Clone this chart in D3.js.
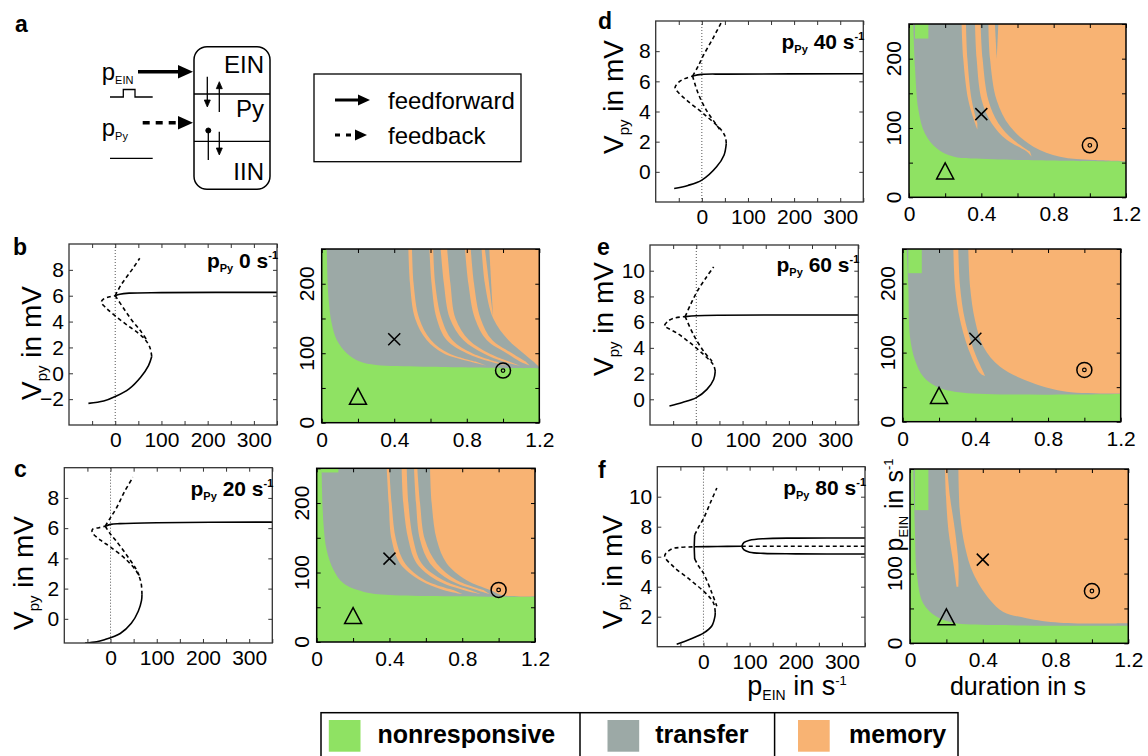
<!DOCTYPE html>
<html>
<head>
<meta charset="utf-8">
<script src="https://d3js.org/d3.v7.min.js"></script>
<style>
  body { margin: 0; background: #fff; }
  svg { font-family: "Liberation Sans", Arial, sans-serif; }
</style>
</head>
<body>
<svg id="fig" width="1148" height="756"></svg>
<script>
const svg = d3.select("#fig");
const cGreen = "#8fe263", cGray = "#9ca9a6", cOrange = "#f8b373";

// ---------------- data ----------------
const ppyRates = [0, 20, 40, 60, 80];
const bifXTicks = [-50, 0, 50, 100, 150, 200, 250, 300, 350];
const bifXLabels = [0, 100, 200, 300];
const bifYTicks = [[-2, 0, 2, 4, 6, 8], [0, 2, 4, 6, 8], [0, 2, 4, 6, 8], [0, 2, 4, 6, 8, 10], [2, 4, 6, 8, 10]];
const mapXTicks = [0, 0.2, 0.4, 0.6, 0.8, 1.0, 1.2];
const mapXLabels = [0, 0.4, 0.8, 1.2];
const mapYTicks = [0, 50, 100, 150, 200, 250];
const mapYLabels = [0, 100, 200];
const mapYLabelsF = [0, 100];
const triangleAt = [0.2, 38], crossAt = [0.4, 120], targetAt = [1.0, 75];
const legendNames = ["nonresponsive", "transfer", "memory"];

// bifurcation branches, [p_EIN, V_py]
const lowB = [[-58,-2.33],[-25,-2.15],[0,-1.8],[30,-1.2],[55,-0.3],[72,0.6],[79,1.3]];
const unstB = [[79,1.3],[75,2.0],[65,2.6],[50,3.1],[25,3.75],[0,4.44],[-19,5.03],[-30,5.5],[-25,5.75],[-12,5.92],[0,6.0]];
const upB = [[0,6.0],[10,6.12],[30,6.2],[100,6.24],[350,6.26]];
const lcMaxB = [[0,6.0],[12,6.8],[25,7.46],[40,8.2],[53,8.9]];
const lcMinB = [[0,6.0],[18,5.03],[36,4.1],[53,3.36],[68,2.6]];

const lowC = [[-55,-1.6],[-30,-1.52],[-15,-1.4],[21,-0.97],[45,-0.3],[60,0.5],[67,1.2],[68,1.6]];
const unstC = [[68,1.6],[66,2.4],[57,3.1],[35,3.88],[0,4.75],[-21.6,5.2],[-40,5.74],[-38,5.95],[-25,6.03],[-11.5,6.13]];
const upC = [[-11.5,6.13],[0,6.25],[20,6.3],[100,6.36],[350,6.4]];
const lcMaxC = [[-11.5,6.13],[0,6.7],[14,7.4],[30,8.4],[48.5,9.37]];
const lcMinC = [[-11.5,6.13],[0,5.6],[11,5.2],[33,4.3],[55,3.3],[63,2.8]];

const lowD = [[-60,-1.1],[-30,-0.9],[0,-0.55],[32,0.33],[48,1.1],[53,1.88]];
const unstD = [[53,1.88],[51,2.3],[42.6,2.76],[3,3.87],[-33,4.75],[-55,5.4],[-58,5.6],[-50,5.95],[-37,6.18],[-20,6.35]];
const upD = [[-20,6.35],[0,6.46],[50,6.48],[350,6.5]];
const lcMaxD = [[-20,6.35],[-8,7.0],[3,7.7],[25,8.9],[42.6,9.93]];
const lcMinD = [[-20,6.35],[-8,5.2],[10,4.08],[32,3.1],[42.6,2.65]];

const lowE = [[-58,-0.52],[-30,-0.25],[0,0.13],[23,0.77],[37.5,1.54],[41,2.19]];
const unstE = [[41,2.19],[38,2.6],[34,2.83],[16,3.47],[-13,4.38],[-42,5.15],[-65,5.6],[-68.6,5.71],[-62,6.05],[-50,6.3],[-24,6.43]];
const upE = [[-24,6.43],[0,6.5],[50,6.54],[350,6.56]];
const lcMaxE = [[-24,6.43],[-12,7.4],[1.4,8.36],[20,9.4],[37.5,10.3]];
const lcMinE = [[-24,6.43],[-5.8,5.0],[16,3.73],[34,2.96]];

const lowF = [[-58,0.17],[-29,0.5],[0,0.9],[18,1.38],[25,2.04],[25.5,2.3]];
const unstF = [[25.5,2.3],[22,2.9],[7,3.5],[-29,4.46],[-65,5.34],[-84,6.05],[-70,6.5],[-50,6.62],[-20,6.66]];
const upF = [[-20,6.66],[30,6.68],[83,6.7]];
const cycMaxF = [[-20,6.66],[-19.5,7.1],[-19,7.45]];
const cycMinF = [[-20,6.66],[-19.5,6.2],[-19,5.85]];
const lcMaxF = [[-19,7.45],[-10,8.0],[0,8.53],[15,9.6],[29,10.58]];
const lcMinF = [[-19,5.85],[-10,5.35],[0,4.9],[18,3.6],[29,2.7]];
const osMaxF = [[83,6.7],[88,6.95],[100,7.1],[130,7.2],[200,7.24],[350,7.25]];
const osMinF = [[83,6.7],[88,6.45],[100,6.3],[130,6.22],[200,6.19],[350,6.18]];
const unstHiF = [[83,6.7],[350,6.7]];

// response maps, [duration, p_EIN]
const greenEdgeB = [[0.028,250],[0.037,181],[0.055,143],[0.083,119],[0.138,100],[0.21,88],[0.30,83],[0.56,80.6],[1.2,78]];
const notchB = null;
const orangeB = [
  {l:[[.478,250],[.487,200],[.515,150],[.579,119],[.671,100],[.818,88],[.91,82]], r:[[.498,250],[.507,200],[.538,150],[.602,119],[.700,100],[.848,88]]},
  {l:[[.594,250],[.606,200],[.634,150],[.689,119],[.799,100],[.928,88],[1.02,82]], r:[[.615,250],[.626,200],[.661,150],[.720,119],[.830,100],[.960,88]]},
  {l:[[.656,250],[.674,200],[.707,150],[.781,119],[.891,100],[1.001,88],[1.093,82]], r:[[.692,250],[.710,200],[.738,150],[.812,119],[.922,100],[1.033,88]]},
  {l:[[.790,250],[.809,200],[.845,150],[.910,119],[1.020,100],[1.093,88],[1.148,82]], r:[[.822,250],[.840,200],[.876,150],[.940,119],[1.050,100],[1.125,88]]},
  {l:[[.882,250],[.90,200],[.946,150],[1.029,119],[1.112,100],[1.167,88],[1.2,80]]}
];
const fingerB = [[.900,250],[.924,250],[.945,152]];

const greenEdgeC = [[0.027,250],[0.037,171],[0.055,132],[0.092,104],[0.147,84.5],[0.256,72.5],[0.403,67.7],[1.2,65.3]];
const notchC = [[0.027,244],[0.119,250]];
const orangeC = [
  {l:[[.385,250],[.396,200],[.412,147],[.458,113],[.568,89],[.696,75],[.80,69]], r:[[.399,250],[.412,200],[.436,147],[.486,113],[.595,89],[.751,75]]},
  {l:[[.467,250],[.476,200],[.504,147],[.550,113],[.660,89],[.806,75],[.90,69]], r:[[.495,250],[.504,200],[.531,147],[.577,113],[.696,89],[.843,75]]},
  {l:[[.535,250],[.546,200],[.568,147],[.623,113],[.733,89],[.879,75],[.95,69]], r:[[.553,250],[.568,200],[.595,147],[.660,113],[.770,89],[.916,75]]},
  {l:[[.623,250],[.632,200],[.660,147],[.715,113],[.824,89],[.953,75],[1.026,67],[1.2,66]]}
];
const fingerC = null;

const greenEdgeD = [[0.024,250],[0.033,188],[0.052,126],[0.088,92],[0.153,70.7],[0.245,58.7],[0.466,54.8],[1.2,51.4]];
const notchD = [[0.033,229],[0.107,250]];
const orangeD = [
  {l:[[.291,250],[.300,200],[.328,140],[.365,107],[.378,98]], r:[[.315,250],[.323,200],[.347,140],[.378,107]]},
  {l:[[.365,250],[.374,200],[.402,140],[.457,107],[.540,83],[.651,66],[.678,58.6]], r:[[.396,250],[.407,200],[.439,140],[.494,107],[.577,83],[.669,66]]},
  {l:[[.439,250],[.448,200],[.485,140],[.559,102],[.688,73],[.835,58.6],[1.019,53.8],[1.2,52]]}
];
const fingerD = [[.475,250],[.494,250],[.485,200]];

const greenEdgeE = [[0.022,250],[0.031,195],[0.040,123],[0.068,89],[0.114,65],[0.187,50.7],[0.334,42],[1.2,40]];
const notchE = [[0.031,215],[0.105,250]];
const orangeE = [
  {l:[[.279,250],[.288,195],[.316,147],[.371,99],[.426,70],[.453,66]], r:[[.306,250],[.316,195],[.343,147],[.398,99],[.444,72]]},
  {l:[[.361,250],[.371,195],[.398,147],[.444,108.6],[.536,79.6],[.719,55.5],[.903,43.4],[1.2,41]]}
];
const fingerE = null;

const greenEdgeF = [[0.018,250],[0.027,162],[0.037,100],[0.073,57],[0.147,38],[0.238,29.6],[0.458,26.3],[1.2,25.3]];
const notchF = [[0.027,191],[0.101,250]];
const orangeF = [
  {l:[[.192,250],[.198,210],[.211,162],[.238,115],[.256,81]], r:[[.205,250],[.220,210],[.247,162],[.266,115],[.266,81]]},
  {l:[[.266,250],[.275,186],[.302,139],[.348,100],[.440,62],[.513,45],[.641,36],[.824,29.6],[1.2,28.7]]}
];
const fingerF = null;

// ---------------- layout ----------------
const panels = [
  {id:"b", L:[69,244,277,425],        vDom:[-4,10],   R:[321.7,249,539.3,422.7], tag:[13,255],  yl:[41,343],  tdy:24, yLab:mapYLabels,
   curves:[[lowB,0],[unstB,1],[upB,0],[lcMaxB,1],[lcMinB,1]], edge:greenEdgeB, notch:notchB, bands:orangeB, finger:fingerB},
  {id:"c", L:[64.3,467.7,272.3,643],  vDom:[-1.6,10], R:[316.7,468.3,535,642],   tag:[14,477],  yl:[33,573],  tdy:28, yLab:mapYLabels,
   curves:[[lowC,0],[unstC,1],[upC,0],[lcMaxC,1],[lcMinC,1]], edge:greenEdgeC, notch:notchC, bands:orangeC, finger:fingerC},
  {id:"d", L:[655.7,21,863.3,202],    vDom:[-2,10],   R:[909,24,1126,197.3],     tag:[598,29],  yl:[623,97],  tdy:28, yLab:mapYLabels,
   curves:[[lowD,0],[unstD,1],[upD,0],[lcMaxD,1],[lcMinD,1]], edge:greenEdgeD, notch:notchD, bands:orangeD, finger:fingerD},
  {id:"e", L:[650,245,858.3,425],     vDom:[-2,12],   R:[902.7,249,1120.7,421.7],tag:[597,255], yl:[613,319], tdy:27, yLab:mapYLabels,
   curves:[[lowE,0],[unstE,1],[upE,0],[lcMaxE,1],[lcMinE,1]], edge:greenEdgeE, notch:notchE, bands:orangeE, finger:fingerE},
  {id:"f", L:[657.3,466.7,865,646.7], vDom:[0,12],    R:[910,469,1128.3,643.3],  tag:[598,478], yl:[622,572], tdy:28, yLab:mapYLabelsF,
   curves:[[lowF,0],[unstF,1],[upF,0],[cycMaxF,0],[cycMinF,0],[lcMaxF,1],[lcMinF,1],[osMaxF,0],[osMinF,0],[unstHiF,1]],
   edge:greenEdgeF, notch:notchF, bands:orangeF, finger:fingerF}
];

function styleAxis(g, color) {
  g.select(".domain").remove();
  g.attr("font-family", null).attr("font-size", 21).attr("color", color);
  g.selectAll("text").attr("fill", "#000");
}

// ---------------- bifurcation plots ----------------
panels.forEach((P, i) => {
  const [x0, y0, x1, y1] = P.L;
  const x = d3.scaleLinear().domain([-100, 350]).range([x0, x1]);
  const y = d3.scaleLinear().domain(P.vDom).range([y1, y0]);
  svg.append("clipPath").attr("id", "cl" + P.id).append("rect")
    .attr("x", x0).attr("y", y0).attr("width", x1 - x0).attr("height", y1 - y0);
  const g = svg.append("g").attr("clip-path", `url(#cl${P.id})`);
  g.append("line").attr("x1", x(0)).attr("x2", x(0)).attr("y1", y0).attr("y2", y1)
    .attr("stroke", "#555").attr("stroke-width", 1).attr("stroke-dasharray", "1,2");
  const line = d3.line().x(d => x(d[0])).y(d => y(d[1])).curve(d3.curveCatmullRom.alpha(0.5));
  P.curves.forEach(([pts, dashed]) => {
    g.append("path").attr("d", line(pts)).attr("fill", "none").attr("stroke", "#000")
      .attr("stroke-width", 1.6).attr("stroke-dasharray", dashed ? "4,3" : null);
  });

  const ax = svg.append("g");
  ax.append("g").attr("transform", `translate(0,${y1})`)
    .call(d3.axisBottom(x).tickValues(bifXTicks).tickSize(-4).tickPadding(7)
      .tickFormat(d => bifXLabels.includes(d) ? d : "")).call(g2 => styleAxis(g2, "#333"));
  ax.append("g").attr("transform", `translate(0,${y0})`)
    .call(d3.axisTop(x).tickValues(bifXTicks).tickSize(-4).tickFormat("")).call(g2 => styleAxis(g2, "#333"));
  ax.append("g").attr("transform", `translate(${x0},0)`)
    .call(d3.axisLeft(y).tickValues(bifYTicks[i]).tickSize(-4).tickPadding(5)).call(g2 => styleAxis(g2, "#333"));
  ax.append("g").attr("transform", `translate(${x1},0)`)
    .call(d3.axisRight(y).tickValues(bifYTicks[i]).tickSize(-4).tickFormat("")).call(g2 => styleAxis(g2, "#333"));
  svg.append("rect").attr("x", x0).attr("y", y0).attr("width", x1 - x0).attr("height", y1 - y0)
    .attr("fill", "none").attr("stroke", "#333").attr("stroke-width", 1.3);

  // title
  const t = svg.append("text").attr("x", x1 + 1).attr("y", y0 + P.tdy).attr("text-anchor", "end")
    .attr("font-weight", "bold").attr("font-size", 21);
  t.append("tspan").text("p");
  t.append("tspan").attr("font-size", 11).attr("dy", 4).text("Py");
  t.append("tspan").attr("dy", -4).text(" " + ppyRates[i] + " s");
  t.append("tspan").attr("font-size", 11).attr("dy", -9).text("-1");

  // y label
  const yl = svg.append("text").attr("transform", `translate(${P.yl[0]},${P.yl[1]}) rotate(-90)`)
    .attr("text-anchor", "middle").attr("font-size", 28);
  yl.append("tspan").text("V");
  yl.append("tspan").attr("font-size", 15).attr("dy", 6).text("py");
  yl.append("tspan").attr("dy", -6).text(" in mV");

  // panel letter
  svg.append("text").attr("x", P.tag[0]).attr("y", P.tag[1]).attr("font-weight", "bold")
    .attr("font-size", 23).text(P.id);
});

// ---------------- response maps ----------------
panels.forEach(P => {
  const [x0, y0, x1, y1] = P.R;
  const x = d3.scaleLinear().domain([0, 1.2]).range([x0, x1]);
  const y = d3.scaleLinear().domain([0, 250]).range([y1, y0]);
  svg.append("clipPath").attr("id", "cm" + P.id).append("rect")
    .attr("x", x0).attr("y", y0).attr("width", x1 - x0).attr("height", y1 - y0);
  const g = svg.append("g").attr("clip-path", `url(#cm${P.id})`);
  const edge = d3.line().x(d => x(d[0])).y(d => y(d[1])).curve(d3.curveCatmullRom.alpha(0.5));
  const band = (l, r) => edge(l) + "L" + edge(r.slice().reverse()).slice(1) + "Z";
  const frameEdge = pts => [[1.2, 250], [1.2, pts[pts.length - 1][1]]];

  g.append("rect").attr("x", x0).attr("y", y0).attr("width", x1 - x0).attr("height", y1 - y0).attr("fill", cGreen);
  g.append("path").attr("d", band(P.edge, frameEdge(P.edge))).attr("fill", cGray);
  if (P.notch) {
    g.append("rect").attr("x", x(P.notch[0][0])).attr("y", y(P.notch[1][1]))
      .attr("width", x(P.notch[1][0]) - x(P.notch[0][0]))
      .attr("height", y(P.notch[0][1]) - y(P.notch[1][1])).attr("fill", cGreen);
  }
  P.bands.forEach(b => {
    g.append("path").attr("d", band(b.l, b.r || frameEdge(b.l))).attr("fill", cOrange);
  });
  if (P.finger) {
    g.append("path").attr("d", d3.line().x(d => x(d[0])).y(d => y(d[1])).curve(d3.curveLinearClosed)(P.finger))
      .attr("fill", cGray);
  }

  // markers
  const mk = svg.append("g").attr("fill", "none").attr("stroke", "#000").attr("stroke-width", 1.5);
  const tx = x(triangleAt[0]), ty = y(triangleAt[1]);
  mk.append("path").attr("d", `M${tx - 8.5},${ty + 8}L${tx},${ty - 8}L${tx + 8.5},${ty + 8}Z`);
  const cx = x(crossAt[0]), cy = y(crossAt[1]);
  mk.append("path").attr("d", `M${cx - 6},${cy - 6}L${cx + 6},${cy + 6}M${cx - 6},${cy + 6}L${cx + 6},${cy - 6}`);
  mk.append("circle").attr("cx", x(targetAt[0])).attr("cy", y(targetAt[1])).attr("r", 7.5);
  mk.append("circle").attr("cx", x(targetAt[0])).attr("cy", y(targetAt[1])).attr("r", 1.8).attr("stroke-width", 1.2);

  const ax = svg.append("g");
  ax.append("g").attr("transform", `translate(0,${y1})`)
    .call(d3.axisBottom(x).tickValues(mapXTicks).tickSize(-4).tickPadding(9)
      .tickFormat(d => mapXLabels.some(v => Math.abs(v - d) < 1e-9) ? d3.format("~g")(d) : ""))
    .call(g2 => styleAxis(g2, "#000"));
  ax.append("g").attr("transform", `translate(0,${y0})`)
    .call(d3.axisTop(x).tickValues(mapXTicks).tickSize(-4).tickFormat("")).call(g2 => styleAxis(g2, "#000"));
  ax.append("g").attr("transform", `translate(${x0},0)`)
    .call(d3.axisLeft(y).tickValues(mapYTicks).tickSize(-4).tickFormat("")).call(g2 => styleAxis(g2, "#000"));
  ax.append("g").attr("transform", `translate(${x1},0)`)
    .call(d3.axisRight(y).tickValues(mapYTicks).tickSize(-4).tickFormat("")).call(g2 => styleAxis(g2, "#000"));
  P.yLab.forEach(v => {
    svg.append("text").attr("transform", `translate(${x0 - 8},${y(v)}) rotate(-90)`)
      .attr("text-anchor", "middle").attr("font-size", 21).text(v);
  });
  svg.append("rect").attr("x", x0).attr("y", y0).attr("width", x1 - x0).attr("height", y1 - y0)
    .attr("fill", "none").attr("stroke", "#000").attr("stroke-width", 1.5);
});

// axis titles of the bottom row
const xl1 = svg.append("text").attr("x", 797).attr("y", 695).attr("text-anchor", "middle").attr("font-size", 27);
xl1.append("tspan").text("p");
xl1.append("tspan").attr("font-size", 14).attr("dy", 5).text("EIN");
xl1.append("tspan").attr("dy", -5).text(" in s");
xl1.append("tspan").attr("font-size", 13).attr("dy", -10).text("-1");

svg.append("text").attr("x", 1018).attr("y", 695).attr("text-anchor", "middle").attr("font-size", 25).text("duration in s");

const yl2 = svg.append("text").attr("transform", "translate(903,505) rotate(-90)").attr("text-anchor", "middle").attr("font-size", 25);
yl2.append("tspan").text("p");
yl2.append("tspan").attr("font-size", 13).attr("dy", 5).text("EIN");
yl2.append("tspan").attr("dy", -5).text(" in s");
yl2.append("tspan").attr("font-size", 13).attr("dy", -10).text("-1");

// ---------------- panel a: circuit sketch ----------------
const a = svg.append("g").attr("stroke", "#000").attr("fill", "none");
svg.append("text").attr("x", 15).attr("y", 32).attr("font-weight", "bold").attr("font-size", 23).text("a");
a.append("rect").attr("x", 194).attr("y", 46.7).attr("width", 76).attr("height", 142.6).attr("rx", 13).attr("stroke-width", 1.5);
[94, 141.3].forEach(v => a.append("line").attr("x1", 194).attr("x2", 270).attr("y1", v).attr("y2", v).attr("stroke-width", 1.3));
[["EIN", 73], ["Py", 117], ["IIN", 180]].forEach(([s, v]) =>
  svg.append("text").attr("x", 264).attr("y", v).attr("text-anchor", "end").attr("font-size", 24).text(s));

function vArrow(xx, ya, yb) {
  const dir = yb > ya ? 1 : -1;
  a.append("line").attr("x1", xx).attr("x2", xx).attr("y1", ya).attr("y2", yb - dir * 6).attr("stroke-width", 1.3);
  a.append("path").attr("d", `M${xx - 3},${yb - dir * 7}L${xx},${yb}L${xx + 3},${yb - dir * 7}Z`).attr("fill", "#000").attr("stroke-width", 0.8);
}
vArrow(207.3, 76.7, 107);
vArrow(219.3, 112, 81.7);
vArrow(219.3, 131.7, 155);
a.append("line").attr("x1", 208.3).attr("x2", 208.3).attr("y1", 130.5).attr("y2", 160).attr("stroke-width", 1.3);
a.append("circle").attr("cx", 208.3).attr("cy", 130.5).attr("r", 2.5).attr("fill", "#000");

function hArrow(xa, xb, yy, dash, w, head) {
  a.append("line").attr("x1", xa).attr("x2", xb - head + 2).attr("y1", yy).attr("y2", yy)
    .attr("stroke-width", w).attr("stroke-dasharray", dash);
  a.append("path").attr("d", `M${xb - head},${yy - head * 0.45}L${xb},${yy}L${xb - head},${yy + head * 0.45}Z`)
    .attr("fill", "#000").attr("stroke", "none");
}
hArrow(138, 193, 71.7, null, 3.5, 15);
hArrow(142.7, 193, 122.7, "7,6", 3.5, 15);

const pe = svg.append("text").attr("x", 101.7).attr("y", 80).attr("font-size", 24);
pe.append("tspan").text("p");
pe.append("tspan").attr("font-size", 11).attr("dy", 4).text("EIN");
const pp = svg.append("text").attr("x", 101.7).attr("y", 136).attr("font-size", 24);
pp.append("tspan").text("p");
pp.append("tspan").attr("font-size", 11).attr("dy", 4).text("Py");
a.append("path").attr("d", "M110,97H123.3V89.5H135V97H152.7").attr("stroke-width", 1.3);
a.append("line").attr("x1", 110).attr("x2", 152.7).attr("y1", 158.3).attr("y2", 158.3).attr("stroke-width", 1.3);

a.append("rect").attr("x", 314).attr("y", 74).attr("width", 207).attr("height", 87.7).attr("stroke-width", 1.3);
hArrow(335, 370, 100, null, 3, 12);
hArrow(335, 367, 135, "5,6", 3, 12);
svg.append("text").attr("x", 388).attr("y", 108.5).attr("font-size", 24).text("feedforward");
svg.append("text").attr("x", 388).attr("y", 143.5).attr("font-size", 24).text("feedback");

// ---------------- bottom legend ----------------
const legColors = [cGreen, cGray, cOrange];
const legSwatchX = [328.8, 607.5, 798];
const legTextX = [377.4, 655.3, 849];
svg.append("rect").attr("x", 321).attr("y", 712.7).attr("width", 637).attr("height", 60)
  .attr("fill", "none").attr("stroke", "#000").attr("stroke-width", 1.5);
[580, 774.6].forEach(v => svg.append("line").attr("x1", v).attr("x2", v).attr("y1", 712.7).attr("y2", 760)
  .attr("stroke", "#000").attr("stroke-width", 1.5));
legendNames.forEach((n, i) => {
  svg.append("rect").attr("x", legSwatchX[i]).attr("y", 720).attr("width", 31.7).attr("height", 31.7).attr("fill", legColors[i]);
  svg.append("text").attr("x", legTextX[i]).attr("y", 743).attr("font-weight", "bold").attr("font-size", 25).text(n);
});
</script>
</body>
</html>
